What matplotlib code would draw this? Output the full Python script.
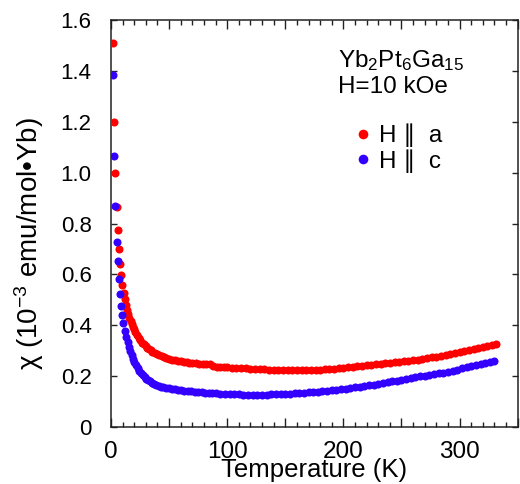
import matplotlib
matplotlib.use("Agg")
import matplotlib.pyplot as plt
from matplotlib.ticker import MultipleLocator, FuncFormatter

plt.rcParams['font.family'] = ['Liberation Sans', 'DejaVu Sans']
plt.rcParams['mathtext.fontset'] = 'custom'
plt.rcParams['mathtext.rm'] = 'Liberation Sans'
plt.rcParams['mathtext.it'] = 'Liberation Sans:italic'
plt.rcParams['mathtext.bf'] = 'Liberation Sans:bold'

# H || a
T_a = [2.0, 2.9, 3.7, 4.8, 5.8, 6.8, 7.8, 8.8, 9.8, 10.8, 11.8, 12.8, 13.8, 14.8, 15.8,
       16.8, 17.8, 18.8, 19.8, 20.9, 22.4, 23.9, 25.3, 26.7, 28.2, 29.7, 31.2, 32.7, 34.2,
       35.7, 37.5, 39.5, 41.5, 43.5, 45.5, 47.5, 50.0, 52.5, 55.0, 57.5, 60.0, 62.5, 65.0,
       67.5, 70.0, 73.0, 76.0, 79.0, 82.0, 85.0, 88.0, 91.0, 94.0, 97.0, 100, 104, 108, 112,
       116, 120, 124, 128, 132, 136, 140, 144, 148, 152, 156, 160, 164, 168, 172, 176, 180,
       184, 188, 192, 196, 200, 204, 208, 212, 216, 220, 224, 228, 232, 236, 240, 244, 248,
       252, 256, 260, 264, 268, 272, 276, 280, 284, 288, 292, 296, 300, 304, 308, 312, 316,
       320, 324, 328, 331]
chi_a = [1.51, 1.20, 1.00, 0.866, 0.773, 0.700, 0.641, 0.598, 0.558, 0.525, 0.505, 0.480,
         0.460, 0.443, 0.428, 0.416, 0.404, 0.394, 0.385, 0.372, 0.360, 0.350, 0.341, 0.332,
         0.325, 0.318, 0.312, 0.306, 0.301, 0.296, 0.291, 0.287, 0.283, 0.279, 0.275, 0.272,
         0.268, 0.265, 0.262, 0.260, 0.258, 0.256, 0.254, 0.253, 0.252, 0.250, 0.249, 0.248,
         0.247, 0.246, 0.238, 0.237, 0.236, 0.235, 0.234, 0.233, 0.232, 0.231, 0.230, 0.229,
         0.228, 0.228, 0.227, 0.226, 0.226, 0.225, 0.225, 0.225, 0.224, 0.224, 0.224, 0.224,
         0.225, 0.225, 0.226, 0.227, 0.228, 0.229, 0.231, 0.232, 0.234, 0.236, 0.238, 0.241,
         0.243, 0.245, 0.247, 0.249, 0.251, 0.253, 0.255, 0.257, 0.259, 0.261, 0.263, 0.265,
         0.268, 0.271, 0.274, 0.277, 0.280, 0.283, 0.287, 0.290, 0.293, 0.297, 0.301, 0.305,
         0.309, 0.314, 0.319, 0.324, 0.327]

# H || c
T_c = [1.4, 2.6, 3.7, 4.9, 5.6, 6.6, 7.5, 8.4, 9.4, 10.6, 11.8, 13.0, 14.2, 15.4, 16.6,
       17.8, 19.0, 20.2, 21.5, 23.0, 24.5, 26.0, 27.5, 29.0, 30.5, 32.0, 33.5, 35.0, 37.0,
       39.0, 41.0, 43.0, 45.0, 47.5, 50.0, 52.5, 55.0, 57.5, 60.0, 63, 66, 69, 72, 75, 78, 81,
       84, 87, 90, 94, 98, 102, 106, 110, 114, 118, 122, 126, 130, 134, 138, 142, 146, 150,
       154, 158, 162, 166, 170, 174, 178, 182, 186, 190, 194, 198, 202, 206, 210, 214, 218,
       222, 226, 230, 234, 238, 242, 246, 250, 254, 258, 262, 266, 270, 274, 278, 282, 286,
       290, 294, 298, 302, 306, 310, 314, 318, 322, 326, 330]
chi_c = [1.384, 1.065, 0.870, 0.728, 0.654, 0.581, 0.522, 0.476, 0.440, 0.408, 0.378,
         0.355, 0.335, 0.316, 0.298, 0.283, 0.269, 0.256, 0.244, 0.233, 0.222, 0.212, 0.204,
         0.197, 0.190, 0.184, 0.179, 0.174, 0.169, 0.165, 0.162, 0.159, 0.157, 0.155, 0.153,
         0.151, 0.149, 0.147, 0.145, 0.143, 0.141, 0.140, 0.138, 0.137, 0.136, 0.135, 0.134,
         0.133, 0.132, 0.131, 0.130, 0.129, 0.128, 0.128, 0.127, 0.127, 0.127, 0.127, 0.127,
         0.127, 0.128, 0.128, 0.129, 0.130, 0.131, 0.132, 0.133, 0.134, 0.136, 0.137, 0.139,
         0.141, 0.143, 0.145, 0.147, 0.149, 0.151, 0.154, 0.156, 0.159, 0.161, 0.164, 0.167,
         0.170, 0.173, 0.176, 0.179, 0.182, 0.185, 0.188, 0.192, 0.195, 0.199, 0.201, 0.204,
         0.207, 0.211, 0.214, 0.218, 0.222, 0.226, 0.231, 0.235, 0.239, 0.243, 0.247, 0.251,
         0.255, 0.259]

x_ticks = [0, 100, 200, 300]
y_ticks = [0, 0.2, 0.4, 0.6, 0.8, 1.0, 1.2, 1.4, 1.6]

fig = plt.figure(figsize=(5.2, 4.84), dpi=100)
ax = fig.add_axes([111/520, 57/484, 406.7/520, 407/484])

red = '#ff0000'
blue = '#3300ff'
ax.plot(T_a, chi_a, 'o', color=red, ms=5.8, mec='none', label='H \u2225  a', zorder=3)
ax.plot(T_c, chi_c, 'o', color=blue, ms=5.8, mec='none', label='H \u2225  c', zorder=3)

ax.set_xlim(0, 350)
ax.set_ylim(0, 1.6)
ax.xaxis.set_major_locator(MultipleLocator(50))
ax.xaxis.set_minor_locator(MultipleLocator(10))
ax.set_yticks(y_ticks)

def xfmt(v, pos):
    iv = int(round(v))
    return str(iv) if iv in x_ticks else ''

def yfmt(v, pos):
    return '0' if abs(v) < 1e-9 else '%.1f' % v

ax.xaxis.set_major_formatter(FuncFormatter(xfmt))
ax.yaxis.set_major_formatter(FuncFormatter(yfmt))

ax.tick_params(axis='both', which='both', direction='in', top=True, right=True,
               width=1.0, color='#222222')
ax.tick_params(axis='x', which='major', length=6.5, labelsize=17.5, pad=10)
ax.tick_params(axis='x', which='minor', length=3.6)
ax.tick_params(axis='y', which='major', length=4.5, labelsize=16, pad=14)
for s in ax.spines.values():
    s.set_linewidth(1.1)
    s.set_color('#222222')

ax.set_xlabel('Temperature (K)', fontsize=18.5, labelpad=-3.5)
ax.set_ylabel('\u03c7 (10$^{-3}$ emu/mol\u2022Yb)', fontsize=20)
ax.yaxis.set_label_coords(-0.16, 0.45)

ax.text(0.559, 0.884, 'Yb$_2$Pt$_6$Ga$_{15}$', transform=ax.transAxes, fontsize=17.5,
        va='baseline', ha='left')
ax.text(0.559, 0.820, 'H=10 kOe', transform=ax.transAxes, fontsize=17.5,
        va='baseline', ha='left')

leg = ax.legend(loc='upper left', bbox_to_anchor=(0.56, 0.775), frameon=False,
                fontsize=17.5, handletextpad=0.15, handlelength=1.0, borderpad=0,
                labelspacing=0.08, markerscale=1.2)

fig.savefig('out.png', dpi=100)
